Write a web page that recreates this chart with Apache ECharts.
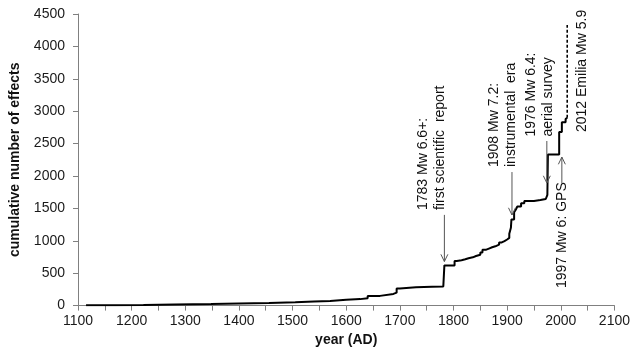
<!DOCTYPE html>
<html>
<head>
<meta charset="utf-8">
<script src="https://cdn.jsdelivr.net/npm/echarts@6/dist/echarts.min.js"></script>
<style>
  html, body { margin: 0; padding: 0; background: #fff; }
  #chart { width: 633px; height: 353px; }
</style>
</head>
<body>
<div id="chart"></div>
<script>
// Cumulative count of documented earthquake effects through time (step series)
const years = [1115, 1170, 1222, 1280, 1348, 1400, 1456, 1505, 1540, 1570, 1600, 1626, 1640, 1663,
  1688, 1694, 1700, 1730, 1760, 1781, 1783, 1802, 1806, 1815, 1822, 1828, 1836, 1842, 1850, 1854,
  1860, 1866, 1872, 1878, 1885, 1890, 1895, 1900, 1904, 1907, 1908, 1913, 1916, 1919, 1926, 1932,
  1950, 1962, 1972, 1975, 1976, 1997, 2002, 2009, 2012];
const cumulative = [5, 10, 18, 25, 32, 40, 50, 62, 72, 90, 100, 115, 150, 180,
  200, 265, 282, 290, 296, 302, 620, 690, 700, 715, 730, 745, 765, 785, 820, 860,
  880, 900, 915, 940, 975, 995, 1020, 1045, 1110, 1200, 1330, 1440, 1480, 1530, 1580, 1615,
  1630, 1645, 1660, 1710, 2330, 2680, 2830, 2880, 2900];

// 2012 Emilia sequence, still being compiled (dashed)
const emiliaYears = [2012, 2012];
const emiliaValues = [2900, 4330];

// Axis ranges and tick steps
const xMin = 1100, xMax = 2100, xStep = 50, xLabelStep = 100;
const yMin = 0, yMax = 4500, yStep = 500;

// Event annotations: text anchor (start of rotated text) and arrow from/to, in data units
const notes = [
  { text: '1783 Mw 6.6+:\nfirst scientific  report', at: [1759, 1475], arrow: [[1783, 1400], [1783, 680]] },
  { text: '1908 Mw 7.2:\ninstrumental  era', at: [1891, 2139], arrow: [[1909, 2061], [1909, 1398]] },
  { text: '1976 Mw 6.4:\naerial survey', at: [1961, 2609], arrow: [[1974, 2540], [1974, 1892]] },
  { text: '1997 Mw 6: GPS', at: [2002, 270], arrow: [[2002, 1891], [2002, 2292]] },
  { text: '2012 Emilia Mw 5.9', at: [2040, 2679] }
];

const FONT = '"Liberation Sans", Arial, sans-serif';
const chart = echarts.init(document.getElementById('chart'), null, { renderer: 'canvas' });

const axisGray = '#808080';

chart.setOption({
  animation: false,
  backgroundColor: '#ffffff',
  grid: { left: 76, right: 17, top: 14, bottom: 47.4, containLabel: false },
  xAxis: {
    type: 'value',
    min: xMin, max: xMax, interval: xStep,
    name: 'year (AD)',
    nameLocation: 'middle',
    nameGap: 27,
    nameTextStyle: { fontFamily: FONT, fontSize: 14, fontWeight: 'bold', color: '#111' },
    axisLine: { show: true, lineStyle: { color: axisGray, width: 1 } },
    axisTick: { show: true, length: 5, lineStyle: { color: axisGray } },
    axisLabel: {
      margin: 9,
      fontFamily: FONT, fontSize: 14, color: '#1a1a1a',
      formatter: v => (v % xLabelStep === 0 ? String(v) : '')
    },
    splitLine: { show: false }
  },
  yAxis: {
    type: 'value',
    min: yMin, max: yMax, interval: yStep,
    name: 'cumulative number of effects',
    nameLocation: 'middle',
    nameGap: 56,
    nameRotate: 90,
    nameTextStyle: { fontFamily: FONT, fontSize: 14, fontWeight: 'bold', color: '#111' },
    axisLine: { show: true, lineStyle: { color: axisGray, width: 1 } },
    axisTick: { show: true, length: 5, lineStyle: { color: axisGray } },
    axisLabel: { margin: 13, fontFamily: FONT, fontSize: 14, color: '#1a1a1a', formatter: v => String(v) },
    splitLine: { show: false }
  },
  series: [
    {
      name: 'effects',
      type: 'line',
      step: 'end',
      data: years.map((y, i) => [y, cumulative[i]]),
      showSymbol: false,
      lineStyle: { color: '#000', width: 2 },
      z: 3
    },
    {
      name: 'Emilia 2012',
      type: 'line',
      data: emiliaYears.map((y, i) => [y, emiliaValues[i]]),
      showSymbol: false,
      lineStyle: { color: '#000', width: 1.6, type: [3, 2] },
      z: 3
    }
  ]
});

function arrowElements(from, to) {
  const a = chart.convertToPixel({ gridIndex: 0 }, from);
  const b = chart.convertToPixel({ gridIndex: 0 }, to);
  const dx = b[0] - a[0], dy = b[1] - a[1];
  const len = Math.hypot(dx, dy) || 1;
  const ux = dx / len, uy = dy / len;
  const headLen = 8, spread = 0.45;
  const c = Math.cos(spread), s = Math.sin(spread);
  const l = [b[0] - headLen * (ux * c - uy * s), b[1] - headLen * (uy * c + ux * s)];
  const r = [b[0] - headLen * (ux * c + uy * s), b[1] - headLen * (uy * c - ux * s)];
  const stroke = { stroke: '#555', lineWidth: 1, fill: null };
  return [
    { type: 'polyline', shape: { points: [a, b] }, style: stroke, silent: true, z: 10 },
    { type: 'polyline', shape: { points: [l, b, r] }, style: stroke, silent: true, z: 10 }
  ];
}

function drawNotes() {
  const els = [];
  notes.forEach(n => {
    const p = chart.convertToPixel({ gridIndex: 0 }, n.at);
    els.push({
      type: 'text',
      x: p[0], y: p[1],
      rotation: Math.PI / 2,
      silent: true,
      z: 10,
      style: {
        text: n.text,
        fontFamily: FONT,
        fontSize: 14,
        fill: '#111',
        align: 'left',
        verticalAlign: 'middle',
        lineHeight: 17
      }
    });
    if (n.arrow) els.push(...arrowElements(n.arrow[0], n.arrow[1]));
  });
  chart.setOption({ graphic: els });
}

drawNotes();
</script>
</body>
</html>
